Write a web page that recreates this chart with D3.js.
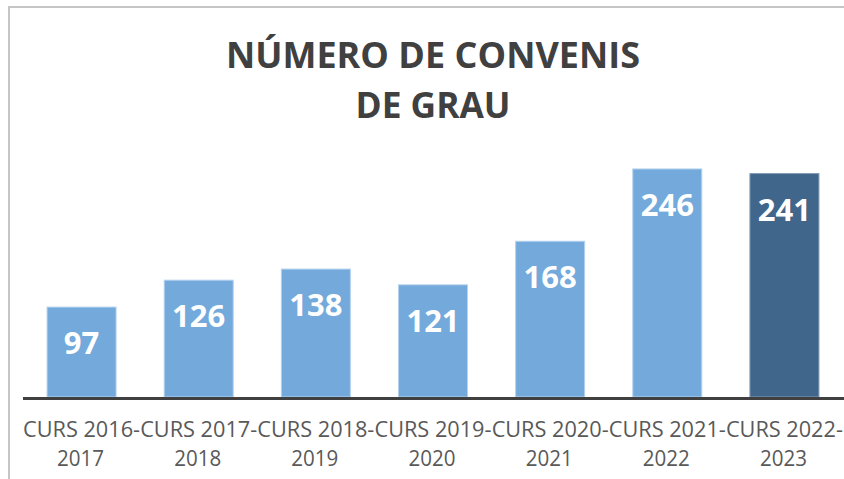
<!DOCTYPE html>
<html>
<head>
<meta charset="utf-8">
<script src="https://cdn.jsdelivr.net/npm/d3@7"></script>
<style>
  html, body { margin: 0; padding: 0; background: #fff; }
  svg { display: block; }
</style>
</head>
<body>
<svg id="chart" width="844" height="479"></svg>
<script>
const titleLines = ["NÚMERO DE CONVENIS", "DE GRAU"];
const categoriesLine1 = ["CURS 2016-", "CURS 2017-", "CURS 2018-", "CURS 2019-", "CURS 2020-", "CURS 2021-", "CURS 2022-"];
const categoriesLine2 = ["2017", "2018", "2019", "2020", "2021", "2022", "2023"];
const categories = categoriesLine1.map((d, i) => d + categoriesLine2[i]);
const values = [97, 126, 138, 121, 168, 246, 241];
const highlight = [false, false, false, false, false, false, true];

const svg = d3.select("#chart");
const W = 844, H = 479;

// frame
svg.append("rect").attr("x", 0).attr("y", 0).attr("width", W).attr("height", H).attr("fill", "#fff");
svg.append("line").attr("x1", 9).attr("x2", W).attr("y1", 7).attr("y2", 7)
  .attr("stroke", "#c6c6c6").attr("stroke-width", 2);
svg.append("line").attr("x1", 9).attr("x2", 9).attr("y1", 6).attr("y2", H)
  .attr("stroke", "#c6c6c6").attr("stroke-width", 2);

// title
const titleWidths = [414, 155];
const title = svg.append("text")
  .attr("text-anchor", "middle")
  .attr("font-family", "'Open Sans', sans-serif")
  .attr("font-weight", 700)
  .attr("font-size", 35)
  .attr("fill", "#404040");
title.selectAll("tspan").data(titleLines).join("tspan")
  .attr("x", 433)
  .attr("y", (d, i) => 68 + i * 50)
  .attr("textLength", (d, i) => titleWidths[i])
  .attr("lengthAdjust", "spacingAndGlyphs")
  .text(d => d);

const x = d3.scaleBand()
  .domain(categories)
  .range([23, 843])
  .paddingInner(0.411)
  .paddingOuter(0.2055);

const y = d3.scaleLinear()
  .domain([0, 300])
  .range([397, 397 - 300 * 0.927]);

const data = categories.map((c, i) => ({ c, v: values[i], h: highlight[i], l1: categoriesLine1[i], l2: categoriesLine2[i] }));

svg.append("g").selectAll("rect").data(data).join("rect")
  .attr("x", d => x(d.c))
  .attr("y", d => y(d.v))
  .attr("width", x.bandwidth())
  .attr("height", d => y(0) - y(d.v))
  .attr("fill", d => d.h ? "#41668b" : "#73a9db")
  .attr("stroke", d => d.h ? "#7f9ab5" : "#b4d2ee")
  .attr("stroke-width", 1);

// value labels
svg.append("g").selectAll("text").data(data).join("text")
  .attr("x", d => x(d.c) + x.bandwidth() / 2)
  .attr("y", d => y(d.v) + 47)
  .attr("text-anchor", "middle")
  .attr("font-family", "'Open Sans', sans-serif")
  .attr("font-weight", 700)
  .attr("font-size", 31)
  .attr("fill", "#ffffff")
  .text(d => d.v);

// axis
const axis = d3.axisBottom(x).tickSize(0).tickFormat(() => "");
const gx = svg.append("g").attr("transform", `translate(0,${y(0) + 1.5})`).call(axis);
gx.select(".domain").attr("stroke", "#404040").attr("stroke-width", 3).attr("d", "M23,0H844");

const lab = svg.append("g").selectAll("text").data(data).join("text")
  .attr("text-anchor", "middle")
  .attr("font-family", "'Open Sans', sans-serif")
  .attr("font-size", 21)
  .attr("fill", "#595959");
lab.append("tspan").attr("x", d => x(d.c) + x.bandwidth() / 2).attr("y", 437)
  .attr("textLength", 117).attr("lengthAdjust", "spacingAndGlyphs").text(d => d.l1);
lab.append("tspan").attr("x", d => x(d.c) + x.bandwidth() / 2 - 1).attr("y", 466)
  .attr("textLength", 47).attr("lengthAdjust", "spacingAndGlyphs").text(d => d.l2);
</script>
</body>
</html>
